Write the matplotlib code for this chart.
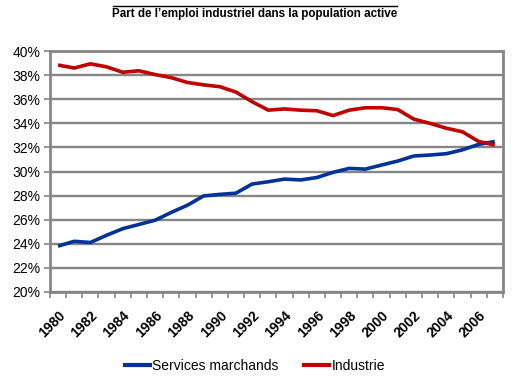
import matplotlib.pyplot as plt
import numpy as np
from matplotlib.lines import Line2D

years = list(range(1980, 2008))
services = [23.8, 24.2, 24.1, 24.7, 25.25, 25.6, 25.95, 26.6, 27.2, 27.97,
            28.1, 28.2, 28.96, 29.15, 29.37, 29.3, 29.5, 29.93, 30.26, 30.2,
            30.54, 30.87, 31.29, 31.37, 31.48, 31.8, 32.25, 32.5]
industrie = [38.85, 38.6, 38.95, 38.7, 38.25, 38.37, 38.06, 37.8, 37.4, 37.2,
             37.05, 36.6, 35.8, 35.1, 35.2, 35.1, 35.05, 34.65, 35.1, 35.3,
             35.3, 35.15, 34.35, 34.0, 33.6, 33.3, 32.5, 32.2]
tick_labels = [str(y) for y in years[::2]]

blue = "#003399"
red = "#C00000"
grey = "#868686"

fig = plt.figure(figsize=(5.31, 3.82), dpi=100)
ax = fig.add_axes([0.094, 0.236, 0.853, 0.630])

x = np.arange(len(years))
ax.plot(x, services, color=blue, lw=2.6, solid_capstyle="butt")
ax.plot(x, industrie, color=red, lw=2.6, solid_capstyle="butt")

ax.set_xlim(-0.5, len(years) - 0.5)
ax.set_ylim(20, 40)
ax.set_yticks(np.arange(20, 41, 2))
ax.set_yticklabels([f"{v}%" for v in range(20, 41, 2)], fontsize=10,
                   family=["Liberation Sans", "DejaVu Sans"])
ax.yaxis.grid(True, color=grey, lw=1.7)
ax.set_axisbelow(True)

ax.set_xticks(np.arange(-0.5, len(years), 1))
ax.set_xticklabels([])
ax.set_xticks(x[::2], minor=True)
ax.set_xticklabels(tick_labels, minor=True, rotation=45, ha="right", va="top",
                   rotation_mode="anchor", fontsize=10, fontweight="bold",
                   family=["Liberation Sans", "DejaVu Sans"])
ax.tick_params(axis="x", which="minor", length=0, pad=12)
ax.tick_params(axis="x", which="major", length=4, color=grey, width=1.2, direction="out")
ax.tick_params(axis="y", length=4, color=grey, width=1.2, direction="out", pad=3)

for s in ax.spines.values():
    s.set_color(grey)
    s.set_linewidth(2)

fig.text(0.48, 0.963, "Part de l\u2019emploi industriel dans la population active",
         ha="center", va="center", fontsize=8.4, fontweight="bold",
         family=["Liberation Sans", "DejaVu Sans"])
fig.add_artist(Line2D([113 / 531, 397 / 531], [1 - 6 / 382, 1 - 6 / 382],
                      color="black", lw=1))

handles = [Line2D([], [], color=blue, lw=3), Line2D([], [], color=red, lw=3)]
fig.legend(handles, ["Services marchands", "Industrie"], loc="center",
           bbox_to_anchor=(0.48, 0.042), ncol=2, frameon=False,
           handlelength=1.8, handletextpad=0.2, columnspacing=1.8,
           prop={"family": ["Liberation Sans", "DejaVu Sans"], "size": 10})

fig.savefig("out.png", dpi=100)
